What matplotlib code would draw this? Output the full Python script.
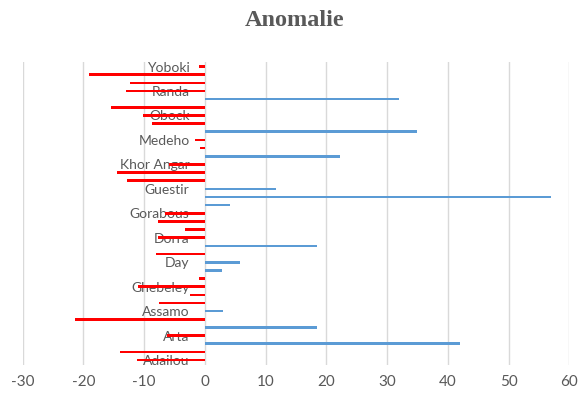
import matplotlib
matplotlib.use("Agg")
import matplotlib.pyplot as plt
import numpy as np

# anomalie par ligne, de haut en bas (37 lignes, un nom toutes les 3 lignes)
values = [-1.0, -19.1, -12.3, -13.0, 31.9, -15.5, -10.2, -8.7, 35.0, -1.6,
          -0.8, 22.3, -5.9, -14.4, -12.8, 11.7, 57.0, 4.1, -6.6, -7.8,
          -3.3, -7.7, 18.4, -8.1, 5.75, 2.9, -1.0, -11.0, -2.5, -7.6,
          3.0, -21.4, 18.5, -6.3, 42.0, -14.0, -11.1]
stations = ["Yoboki", "Randa", "Obock", "Medeho", "Khor Angar", "Guestir",
            "Gorabous", "Dorra", "Day", "Ghebeley", "Assamo", "Arta", "Adailou"]
xticks = [-30, -20, -10, 0, 10, 20, 30, 40, 50, 60]

gray = "#595959"
plt.rcParams["font.family"] = ["Lato", "DejaVu Sans"]
fig = plt.figure(figsize=(5.86, 3.95), dpi=100)
ax = fig.add_axes([0.0387, 0.076, 0.9328, 0.768])

vals = np.array(values)
pos = np.arange(len(vals))
colors = np.where(vals < 0, "#FF0000", "#5B9BD5")
ax.barh(pos, vals, height=0.32, color=colors, zorder=3)

ax.set_xlim(-30, 60)
ax.set_ylim(len(vals) - 0.4, -0.6)
ax.set_xticks(xticks)
ax.set_xticklabels([str(t) for t in xticks], fontsize=11)
ax.set_yticks(pos[::3])
ax.set_yticklabels(stations, fontsize=11)
ax.tick_params(axis="x", length=0, pad=7, labelcolor=gray)
ax.tick_params(axis="y", length=0, pad=11, labelcolor=gray)
ax.spines["left"].set_position(("data", 0))
for s in ax.spines.values():
    s.set_visible(False)
ax.grid(axis="x", color="#D9D9D9", linewidth=1, zorder=0)
ax.set_axisbelow(True)

fig.text(0.503, 0.948, "Anomalie", ha="center", va="center", fontsize=17.5,
         fontweight="bold", family="Liberation Serif", color=gray)

plt.savefig("out.png", dpi=100)
